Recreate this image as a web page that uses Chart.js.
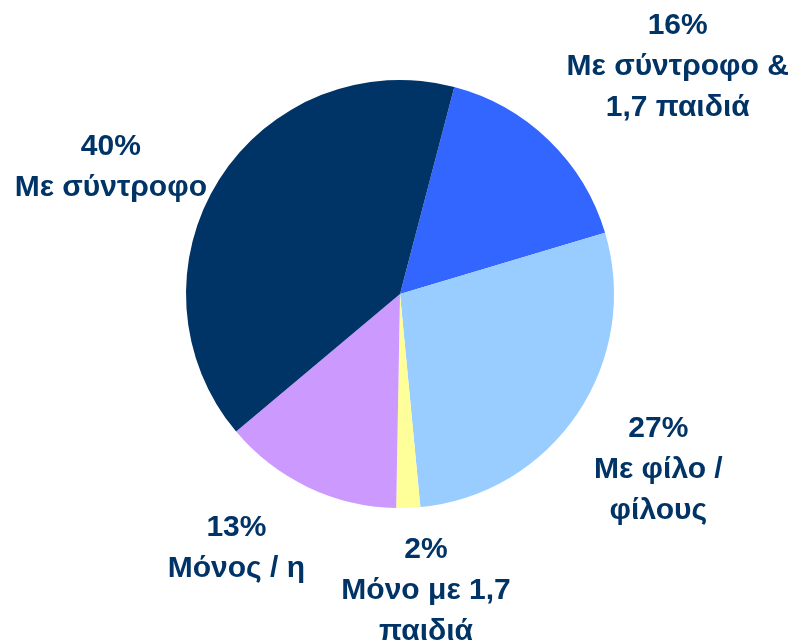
<!DOCTYPE html>
<html lang="el">
<head>
    <meta charset="UTF-8">
    <title>Pie</title>
    <script src="https://cdn.jsdelivr.net/npm/chart.js"></script>
    <style>
        html, body { margin: 0; padding: 0; background: #fff; }
        #wrap { width: 794px; height: 644px; }
    </style>
</head>
<body>
    <div id="wrap"><canvas id="pie" width="794" height="644"></canvas></div>
    <script>
        // Slices, clockwise starting at the "Με σύντροφο & 1,7 παιδιά" wedge
        const categories = [
            ['Με σύντροφο &', '1,7 παιδιά'],
            ['Με φίλο /', 'φίλους'],
            ['Μόνο με 1,7', 'παιδιά'],
            ['Μόνος / η'],
            ['Με σύντροφο']
        ];
        // wedge sizes (%)
        const shares = [16.3, 28.1, 1.8, 13.6, 40.2];
        // percentages printed on the labels
        const printedPct = [16, 27, 2, 13, 40];
        const sliceColors = ['#3366ff', '#99ccff', '#ffff99', '#cc99ff', '#003366'];

        // small per-label nudges from the slice mid-angle position (px)
        const nudges = [[62, -4], [1, 2], [14, -13], [-30, -26], [-27, 39]];

        const outsideLabels = {
            id: 'outsideLabels',
            afterDraw(chart) {
                const ctx = chart.ctx;
                const meta = chart.getDatasetMeta(0);
                ctx.save();
                ctx.fillStyle = '#003366';
                ctx.font = 'bold 30px "Liberation Sans", Arial, sans-serif';
                ctx.textAlign = 'center';
                ctx.textBaseline = 'middle';
                meta.data.forEach((arc, i) => {
                    const mid = (arc.startAngle + arc.endAngle) / 2;
                    const d = arc.outerRadius * 1.45;
                    const x = arc.x + Math.cos(mid) * d + nudges[i][0];
                    const y = arc.y + Math.sin(mid) * d + nudges[i][1];
                    const lines = [printedPct[i] + '%'].concat(categories[i]);
                    const lh = 41;
                    const top = y - (lines.length - 1) * lh / 2;
                    lines.forEach((t, k) => ctx.fillText(t, x, top + k * lh));
                });
                ctx.restore();
            }
        };

        new Chart(document.getElementById('pie'), {
            type: 'pie',
            data: {
                labels: categories.map(c => c.join(' ')),
                datasets: [{
                    data: shares,
                    backgroundColor: sliceColors,
                    borderWidth: 0
                }]
            },
            options: {
                responsive: false,
                animation: false,
                rotation: 14.7,
                layout: { padding: { left: 186, right: 180, top: 80, bottom: 136 } },
                plugins: { legend: { display: false }, tooltip: { enabled: false } }
            },
            plugins: [outsideLabels]
        });
    </script>
</body>
</html>
